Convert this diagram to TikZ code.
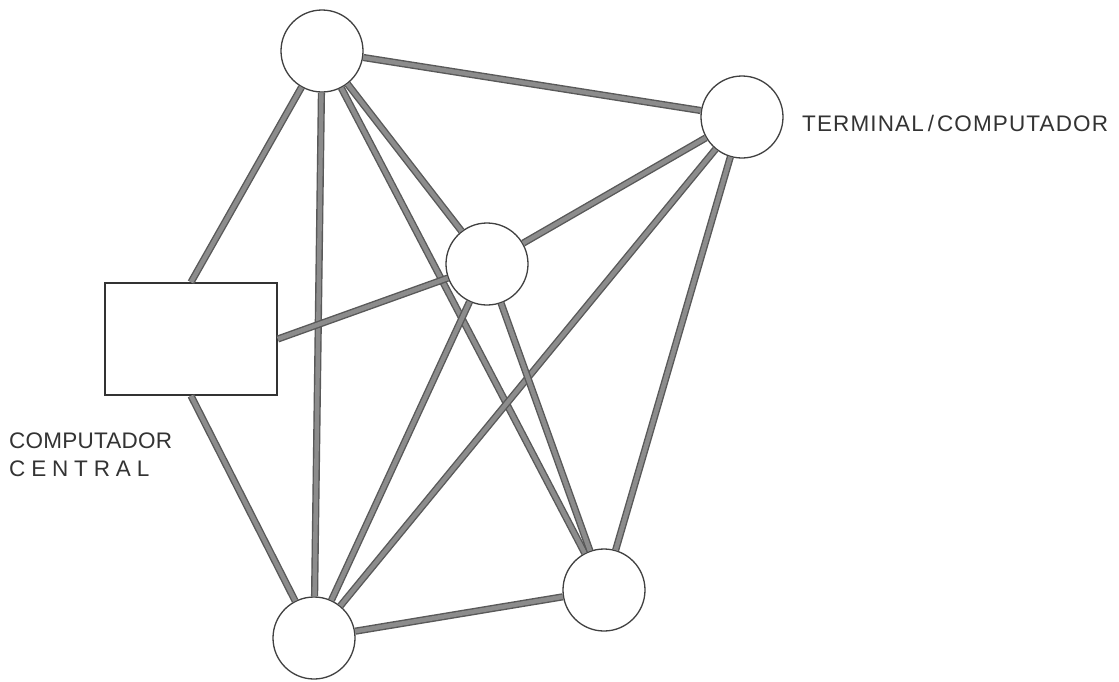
\documentclass[tikz,border=0pt]{standalone}
\usepackage{fontspec}
\newfontfamily\lbl{Liberation Sans}
\begin{document}
\begin{tikzpicture}[x=1pt,y=-1pt,
  station/.style={circle,draw=black!75,line width=1.3pt,fill=white,minimum size=82pt,inner sep=0pt},
  central/.style={rectangle,draw=black!80,line width=1.6pt,fill=white,minimum width=172pt,minimum height=112pt,inner sep=0pt},
  link/.style={draw=black!65,line width=1.4pt,double=black!45,double distance=4.4pt},
  lab/.style={inner sep=0pt,text=black!80,font=\lbl\fontsize{22.5pt}{26pt}\selectfont}]
\useasboundingbox (0,0) rectangle (1119,681);
\fill[white] (0,0) rectangle (1119,681);
\node[station] (A) at (322,51) {};
\node[station] (B) at (742,117) {};
\node[station] (C) at (487,264) {};
\node[station] (E) at (314,638) {};
\node[station] (F) at (604,590) {};
\node[central] (D) at (191,339) {};
\draw[link] (A) -- (B);
\draw[link] (A) -- (D.north);
\draw[link] (A) -- (E);
\draw[link] (A) -- (C);
\draw[link] (A) -- (F);
\draw[link] (B) -- (C);
\draw[link] (B) -- (E);
\draw[link] (B) -- (F);
\draw[link] (C) -- (D.east);
\draw[link] (C) -- (E);
\draw[link] (C) -- (F);
\draw[link] (D.south) -- (E);
\draw[link] (E) -- (F);
\node[lab,anchor=base west] (t1) at (802,131) {\addfontfeatures{LetterSpace=5}TERMINAL\kern4pt/\kern3pt COMPUTADOR};
\node[lab,anchor=base west] (t2) at (9,448) {\addfontfeatures{LetterSpace=1}COMPUTADOR};
\node[lab,anchor=base west] (t3) at (9,476) {\addfontfeatures{LetterSpace=26}CENTRAL};
\end{tikzpicture}
\end{document}
